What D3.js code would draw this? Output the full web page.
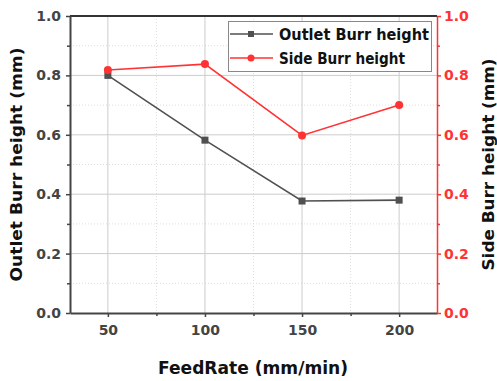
<!DOCTYPE html>
<html><head><meta charset="utf-8">
<script src="https://cdn.jsdelivr.net/npm/d3@7"></script>
<style>body{margin:0;background:#fff}</style>
</head><body>
<script>
const feedRates = [50, 100, 150, 200];
const outletBurr = [0.80, 0.582, 0.377, 0.38];
const sideBurr = [0.818, 0.838, 0.598, 0.70];
const yTicks = [0.0, 0.2, 0.4, 0.6, 0.8, 1.0];
const seriesNames = ["Outlet Burr height", "Side Burr height"];

const FONT = "'DejaVu Sans', 'Liberation Sans', Arial, sans-serif";
const W = 497, H = 381;
const m = {l: 70, r: 60, t: 16, b: 68};
const svg = d3.select("body").append("svg").attr("width", W).attr("height", H)
  .style("font-family", FONT);

const x = d3.scaleLinear().domain([30.5, 219.5]).range([m.l, W - m.r]);
const y = d3.scaleLinear().domain([0, 1]).range([H - m.b, m.t]);
const yR = d3.scaleLinear().domain([0, 1]).range([H - m.b, m.t]);

const g = svg.append("g");
// minor grid (dotted)
g.selectAll(".mgy").data(d3.range(0.1, 1.0, 0.2)).enter().append("line")
  .attr("x1", m.l).attr("x2", W - m.r).attr("y1", d => y(d)).attr("y2", d => y(d))
  .attr("stroke", "#ddd").attr("stroke-width", 1).attr("stroke-dasharray", "1,2");
g.selectAll(".mgx").data([75, 125, 175]).enter().append("line")
  .attr("y1", m.t).attr("y2", H - m.b).attr("x1", d => x(d)).attr("x2", d => x(d))
  .attr("stroke", "#ddd").attr("stroke-width", 1).attr("stroke-dasharray", "1,2");
// major grid
g.selectAll(".gy").data(yTicks.slice(1, 5)).enter().append("line")
  .attr("x1", m.l).attr("x2", W - m.r).attr("y1", d => y(d)).attr("y2", d => y(d))
  .attr("stroke", "#ccc").attr("stroke-width", 1);
g.selectAll(".gx").data(feedRates).enter().append("line")
  .attr("y1", m.t).attr("y2", H - m.b).attr("x1", d => x(d)).attr("x2", d => x(d))
  .attr("stroke", "#ccc").attr("stroke-width", 1);

// top border
svg.append("line").attr("x1", m.l).attr("x2", W - m.r).attr("y1", m.t).attr("y2", m.t)
  .attr("stroke", "#333").attr("stroke-width", 2);

// axes
const fmt = d3.format(".1f");
const xAxis = svg.append("g").attr("transform", `translate(0,${H - m.b})`)
  .call(d3.axisBottom(x).tickValues(feedRates).tickSize(4).tickSizeOuter(0));
const xMinor = svg.append("g").attr("transform", `translate(0,${H - m.b})`)
  .call(d3.axisBottom(x).tickValues([75, 125, 175]).tickSize(3).tickFormat("").tickSizeOuter(0));
xMinor.select(".domain").remove();
xMinor.selectAll("line").attr("stroke", "#444").attr("stroke-width", 1.5);
const yAxis = svg.append("g").attr("transform", `translate(${m.l},0)`)
  .call(d3.axisLeft(y).tickValues(yTicks).tickFormat(fmt).tickSize(4).tickSizeOuter(0));
const yMinor = svg.append("g").attr("transform", `translate(${m.l},0)`)
  .call(d3.axisLeft(y).tickValues(d3.range(0.1, 1.0, 0.2)).tickSize(3).tickFormat("").tickSizeOuter(0));
yMinor.select(".domain").remove();
yMinor.selectAll("line").attr("stroke", "#444").attr("stroke-width", 1.5);
const yAxisR = svg.append("g").attr("transform", `translate(${W - m.r},0)`)
  .call(d3.axisRight(yR).tickValues(yTicks).tickFormat(fmt).tickSize(4).tickSizeOuter(0));
const yRMinor = svg.append("g").attr("transform", `translate(${W - m.r},0)`)
  .call(d3.axisRight(yR).tickValues(d3.range(0.1, 1.0, 0.2)).tickSize(3).tickFormat("").tickSizeOuter(0));
yRMinor.select(".domain").remove();
yRMinor.selectAll("line").attr("stroke", "#ff3333").attr("stroke-width", 1.5);

[xAxis, yAxis].forEach(a => {
  a.select(".domain").attr("stroke", "#444").attr("stroke-width", 2);
  a.selectAll(".tick line").attr("stroke", "#444").attr("stroke-width", 1.5);
  a.selectAll("text").attr("fill", "#444").attr("font-size", 14).attr("font-weight", "bold")
    .attr("font-family", FONT);
});
yAxisR.select(".domain").attr("stroke", "#ff3333").attr("stroke-width", 1.5);
yAxisR.selectAll(".tick line").attr("stroke", "#ff3333").attr("stroke-width", 1.5);
yAxisR.selectAll("text").attr("fill", "#ff3333").attr("font-size", 14).attr("font-weight", "bold")
  .attr("font-family", FONT).attr("x", 7);
xAxis.selectAll("text").attr("dy", "1.1em");
yAxis.selectAll("text").attr("x", -9);

// lines
const dataA = feedRates.map((f, i) => [f, outletBurr[i]]);
const dataB = feedRates.map((f, i) => [f, sideBurr[i]]);
const line = d3.line().x(d => x(d[0])).y(d => y(d[1]));
const lineR = d3.line().x(d => x(d[0])).y(d => yR(d[1]));
svg.append("path").datum(dataA).attr("d", line).attr("fill", "none").attr("stroke", "#505050").attr("stroke-width", 1.6);
svg.selectAll(".sq").data(dataA).enter().append("rect")
  .attr("x", d => x(d[0]) - 3.5).attr("y", d => y(d[1]) - 3.5).attr("width", 7).attr("height", 7).attr("fill", "#505050");
svg.append("path").datum(dataB).attr("d", lineR).attr("fill", "none").attr("stroke", "#ff3333").attr("stroke-width", 1.6);
svg.selectAll(".ci").data(dataB).enter().append("circle")
  .attr("cx", d => x(d[0])).attr("cy", d => yR(d[1])).attr("r", 4).attr("fill", "#ff3333");

// legend
const lg = svg.append("g");
lg.append("rect").attr("x", 228.5).attr("y", 21.5).attr("width", 203).attr("height", 50)
  .attr("fill", "#fff").attr("stroke", "#888").attr("stroke-width", 1);
const rows = [{n: seriesNames[0], c: "#505050", s: "sq", yy: 34}, {n: seriesNames[1], c: "#ff3333", s: "ci", yy: 58}];
rows.forEach(r => {
  lg.append("line").attr("x1", 230).attr("x2", 273).attr("y1", r.yy).attr("y2", r.yy).attr("stroke", r.c).attr("stroke-width", 1.5);
  if (r.s === "sq") lg.append("rect").attr("x", 248).attr("y", r.yy - 3).attr("width", 6).attr("height", 6).attr("fill", r.c);
  else lg.append("circle").attr("cx", 251).attr("cy", r.yy).attr("r", 3.5).attr("fill", r.c);
  lg.append("text").attr("x", 279).attr("y", r.yy + 5.5).text(r.n)
    .attr("font-size", 15).attr("font-weight", "bold").attr("fill", "#111")
    .attr("textLength", r.s === "sq" ? 150 : 126).attr("lengthAdjust", "spacingAndGlyphs");
});

// titles
svg.append("text").attr("x", 253).attr("y", 374).attr("text-anchor", "middle")
  .attr("font-size", 18).attr("font-weight", "bold").attr("fill", "#111").text("FeedRate (mm/min)")
  .attr("textLength", 190).attr("lengthAdjust", "spacingAndGlyphs");
svg.append("text").attr("transform", `translate(22,${(m.t + H - m.b) / 2}) rotate(-90)`)
  .attr("text-anchor", "middle").attr("font-size", 16).attr("font-weight", "bold").attr("fill", "#111")
  .text("Outlet Burr height (mm)").attr("textLength", 234).attr("lengthAdjust", "spacingAndGlyphs");
svg.append("text").attr("transform", `translate(494,${(m.t + H - m.b) / 2}) rotate(-90)`)
  .attr("text-anchor", "middle").attr("font-size", 16).attr("font-weight", "bold").attr("fill", "#111")
  .text("Side Burr height (mm)").attr("textLength", 212).attr("lengthAdjust", "spacingAndGlyphs");
</script>
</body></html>
